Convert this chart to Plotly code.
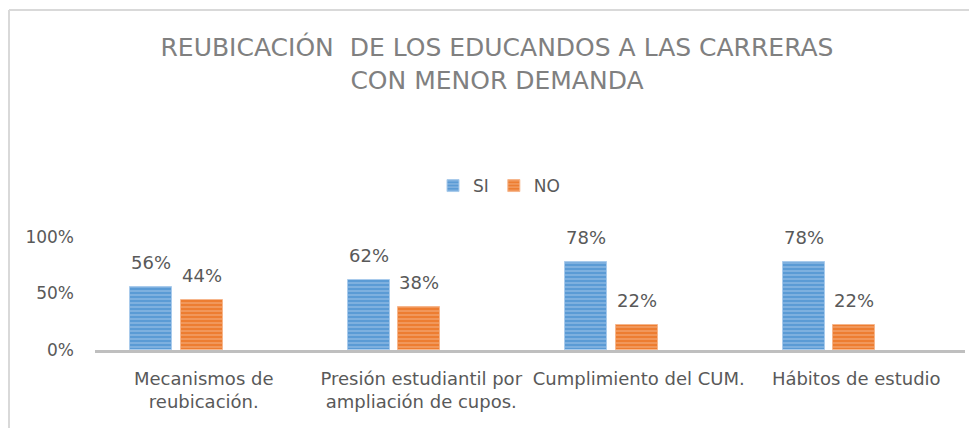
import plotly.graph_objects as go

categorias = ["Mecanismos de<br>reubicación.",
              "Presión estudiantil por<br>ampliación de cupos.",
              "Cumplimiento del CUM.",
              "Hábitos de estudio"]
si = [0.56, 0.62, 0.78, 0.78]
no = [0.44, 0.38, 0.22, 0.22]
series = [("SI", si, "#5b9bd5", "#a9cbec"), ("NO", no, "#ed7d31", "#f6b68c")]

gris = "#595959"
fuente = "DejaVu Sans, Liberation Sans, sans-serif"
# la pagina tiene 8px de margen en el body: la figura se dibuja desde (8, 8)
W, H = 969, 420
L, R, T, B = 87, 12, 229, 78
ancho_plot = W - L - R
alto_plot = H - T - B

fig = go.Figure()

# desplazamiento de cada barra respecto al centro de la categoria (unidades de categoria)
offsets = {"SI": -0.339, "NO": -0.105}
ancho = 0.193

for nombre, vals, color, claro in series:
    fig.add_trace(go.Bar(
        x=categorias, y=vals, name=nombre,
        offset=offsets[nombre], width=ancho,
        marker=dict(color=color,
                    line=dict(color=claro, width=1),
                    pattern=dict(shape="-", fgcolor=claro, bgcolor=color,
                                 size=4, solidity=0.45, fillmode="overlay")),
    ))
    for c, v in zip(categorias, vals):
        fig.add_annotation(x=c, y=v, text=f"{round(v*100)}%", showarrow=False,
                           xshift=(offsets[nombre] + ancho / 2) * ancho_plot / 4,
                           yanchor="bottom", yshift=12,
                           font=dict(size=18, color=gris))

fig.update_layout(
    width=W, height=H,
    margin=dict(l=L, r=R, t=T, b=B, autoexpand=False),
    paper_bgcolor="white", plot_bgcolor="white",
    font=dict(family=fuente, color=gris),
    title=dict(text="REUBICACIÓN\u00a0 DE LOS EDUCANDOS A LAS CARRERAS<br>CON MENOR DEMANDA",
               x=489 / W, xref="container", xanchor="center",
               y=1 - 48 / H, yref="container", yanchor="top",
               font=dict(size=25, color="#808080", family=fuente)),
    showlegend=True,
    legend=dict(orientation="h", x=(499 - 8 - L) / ancho_plot, xanchor="center",
                y=(342 - 178) / alto_plot, yanchor="middle",
                font=dict(size=17, color=gris), itemwidth=30),
    bargap=0, barmode="overlay",
)
fig.update_xaxes(showline=True, linecolor="#bfbfbf", linewidth=3, ticks="",
                 tickangle=0, tickfont=dict(size=18, color=gris), showgrid=False,
                 ticklabelstandoff=10, automargin=False)
fig.update_yaxes(range=[0, 1], tickvals=[0, 0.5, 1], tickformat=".0%",
                 showgrid=False, zeroline=False, showline=False, automargin=False,
                 ticklabelstandoff=20, tickfont=dict(size=17, color=gris))

# marco del grafico
bx = (1 - L) / ancho_plot
by = (alto_plot + T - 2) / alto_plot
borde = dict(type="line", xref="paper", yref="paper", line=dict(color="#d9d9d9", width=2))
fig.add_shape(x0=bx, x1=1.1, y0=by, y1=by, **borde)
fig.add_shape(x0=bx, x1=bx, y0=by, y1=-0.8, **borde)

fig.write_html("out.html")
